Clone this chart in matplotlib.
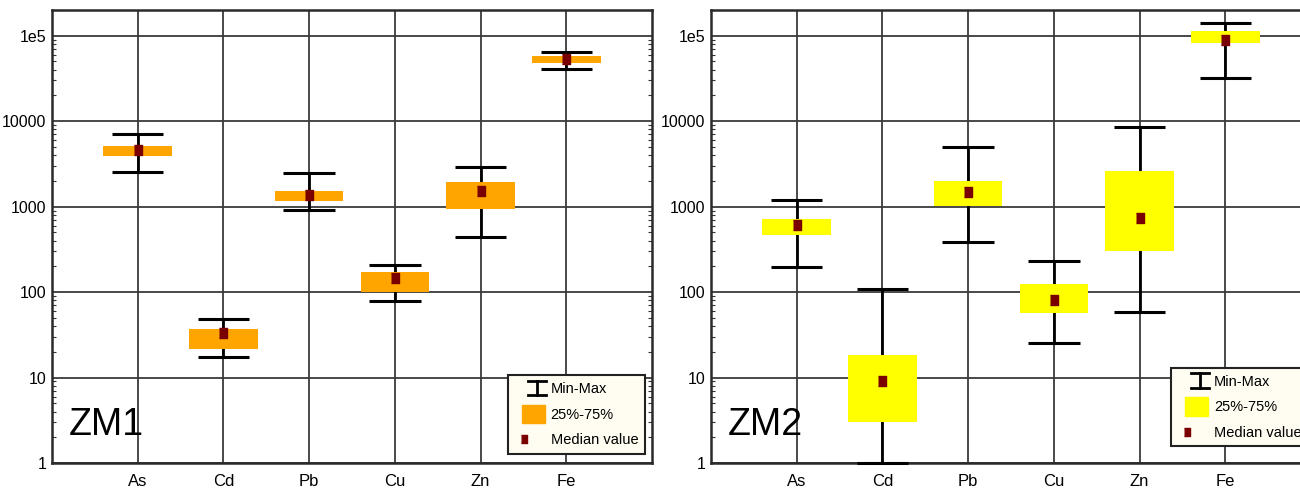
import numpy as np
import matplotlib.pyplot as plt
from matplotlib.lines import Line2D
from matplotlib.patches import Patch, Rectangle
from matplotlib.legend_handler import HandlerBase, HandlerPatch
from matplotlib.ticker import FixedLocator, FixedFormatter, LogLocator, NullFormatter

plt.rcParams['font.family'] = ['Liberation Sans', 'DejaVu Sans']

elements = ["As", "Cd", "Pb", "Cu", "Zn", "Fe"]

# ZM1 statistics (mg/kg)
zm1_min = [2550, 17.5, 906, 79, 437, 40300]
zm1_q25 = [3960, 21.7, 1176, 99, 939, 47800]
zm1_med = [4610, 32.8, 1370, 147, 1526, 53300]
zm1_q75 = [5190, 37.2, 1510, 171, 1963, 57800]
zm1_max = [7110, 48.7, 2480, 205, 2940, 64400]

# ZM2 statistics
zm2_min = [196, 1.0, 382, 25.5, 58.8, 32200]
zm2_q25 = [465, 3.0, 1027, 56.7, 305, 81300]
zm2_med = [615, 9.06, 1472, 79.9, 743, 88900]
zm2_q75 = [711, 18.6, 2017, 123, 2618, 113500]
zm2_max = [1208, 109, 5050, 233, 8660, 142000]

ytick_vals = [1, 10, 100, 1000, 10000, 100000]
ytick_labels = ["1", "10", "100", "1000", "10000", "1e5"]

MED_COLOR = "#7a0000"
med_marker = [(-0.39, -0.5), (0.39, -0.5), (0.39, 0.5), (-0.39, 0.5)]


class MinMaxHandler(HandlerBase):
    def create_artists(self, legend, orig_handle, xdescent, ydescent,
                       width, height, fontsize, trans):
        cx = -xdescent + width * 0.7
        hw = 6.5
        y0 = -ydescent + height * 0.5 - 5.0
        y1 = -ydescent + height * 0.5 + 5.5
        arts = [Line2D([cx - hw, cx + hw], [y0, y0]),
                Line2D([cx - hw, cx + hw], [y1, y1]),
                Line2D([cx, cx], [y0, y1])]
        for a in arts:
            a.set_color("black")
            a.set_linewidth(2.0)
            a.set_transform(trans)
        return arts


def box_patch(legend, orig_handle, xdescent, ydescent, width, height, fontsize):
    return Rectangle((-xdescent + width * 0.25, -ydescent - 2), width * 0.72, height + 4)


class MedianHandler(HandlerBase):
    def create_artists(self, legend, orig_handle, xdescent, ydescent,
                       width, height, fontsize, trans):
        m = Line2D([-xdescent + width * 0.3], [-ydescent + height * 0.5],
                   marker=med_marker, markersize=5.5, color=MED_COLOR,
                   linestyle="none")
        m.set_transform(trans)
        return [m]


def draw_panel(ax, vmin, q25, med, q75, vmax, box_color, label, legend_anchor):
    x = np.arange(1, len(elements) + 1)
    ax.set_xlim(0, 7)
    ax.set_yscale("log")
    ax.set_ylim(1, 2.0e5)

    # whisker stems (behind boxes)
    ax.vlines(x, vmin, vmax, color="black", lw=2.0, zorder=2.5)
    ax.hlines(vmin, x - 0.3, x + 0.3, color="black", lw=2.2, zorder=4, clip_on=False)
    ax.hlines(vmax, x - 0.3, x + 0.3, color="black", lw=2.2, zorder=4, clip_on=False)
    # interquartile boxes
    ax.bar(x, np.array(q75) - np.array(q25), bottom=q25, width=0.8,
           color=box_color, zorder=3)
    # medians
    ax.plot(x, med, linestyle="none", marker=med_marker, markersize=7,
            color=MED_COLOR, zorder=5)

    ax.set_xticks(x)
    ax.set_xticklabels(elements, fontsize=12)
    ax.yaxis.set_major_locator(FixedLocator(ytick_vals))
    ax.yaxis.set_major_formatter(FixedFormatter(ytick_labels))
    ax.yaxis.set_minor_locator(LogLocator(base=10, subs=np.arange(2, 10)))
    ax.yaxis.set_minor_formatter(NullFormatter())
    ax.tick_params(axis="y", which="both", direction="in", right=True,
                   labelsize=11.5, pad=4, color="#333333")
    ax.tick_params(axis="y", which="major", length=0)
    ax.tick_params(axis="y", which="minor", length=3, width=0.8)
    ax.tick_params(axis="x", length=0, pad=8)

    ax.set_axisbelow(True)
    ax.grid(True, which="major", color="#3a3a3a", lw=1.3)
    for s in ax.spines.values():
        s.set_color("#2a2a2a")
        s.set_linewidth(1.8)

    ax.text(0.028, 0.062, label, transform=ax.transAxes, fontsize=27,
            color="black", ha="left", va="baseline")

    handles = [Line2D([], []), Patch(color=box_color), Line2D([], [])]
    leg = ax.legend(handles, ["Min-Max", "25%-75%", "Median value"],
                    handler_map={handles[0]: MinMaxHandler(),
                                 handles[1]: HandlerPatch(patch_func=box_patch),
                                 handles[2]: MedianHandler()},
                    loc="lower right", bbox_to_anchor=legend_anchor,
                    bbox_transform=ax.transAxes, borderaxespad=0,
                    fontsize=10.5, handlelength=2.2, handleheight=1.0,
                    handletextpad=0.3, labelspacing=0.75, borderpad=0.45,
                    fancybox=False, framealpha=1, facecolor="#fffcf2",
                    edgecolor="#222222")
    leg.get_frame().set_linewidth(1.5)
    leg.set_zorder(10)


fig = plt.figure(figsize=(13, 4.91), dpi=100)
ax1 = fig.add_axes([52 / 1300, 28 / 491, 600 / 1300, 453 / 491])
ax2 = fig.add_axes([711 / 1300, 28 / 491, 600 / 1300, 453 / 491])

draw_panel(ax1, zm1_min, zm1_q25, zm1_med, zm1_q75, zm1_max, "#ffa500", "ZM1", (0.988, 0.02))
draw_panel(ax2, zm2_min, zm2_q25, zm2_med, zm2_q75, zm2_max, "#ffff00", "ZM2", (0.995, 0.037))

fig.savefig("out.png", dpi=100)
